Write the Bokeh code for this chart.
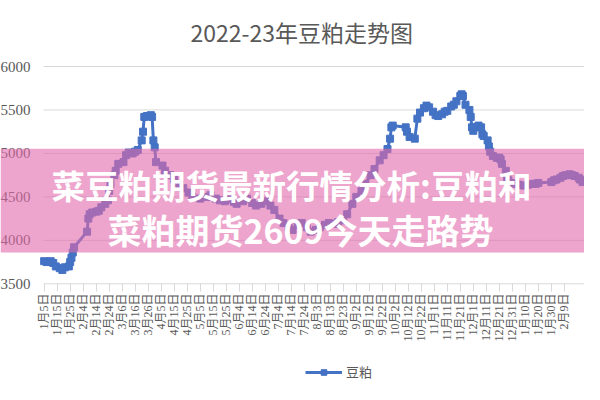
import math
import pandas as pd
from bokeh.plotting import figure
from bokeh.layouts import column
from bokeh.models import (ColumnDataSource, FixedTicker, Range1d, BoxAnnotation,
                          Label, LabelSet, Legend, LegendItem)
from bokeh.embed import file_html
from bokeh.resources import INLINE

title_text = "2022-23年豆粕走势图"
series_name = "豆粕"
overlay_line1 = "菜豆粕期货最新行情分析:豆粕和"
overlay_line2 = "菜粕期货2609今天走路势"

dates = [
    "2022-01-05", "2022-01-07", "2022-01-10", "2022-01-12", "2022-01-14", "2022-01-17",
    "2022-01-19", "2022-01-21", "2022-01-24", "2022-01-25", "2022-01-26", "2022-01-27",
    "2022-01-28", "2022-02-07", "2022-02-08", "2022-02-09", "2022-02-11", "2022-02-14",
    "2022-02-16", "2022-02-18", "2022-02-21", "2022-02-23", "2022-02-24", "2022-02-25",
    "2022-02-28", "2022-03-01", "2022-03-03", "2022-03-07", "2022-03-09", "2022-03-11",
    "2022-03-14", "2022-03-16", "2022-03-18", "2022-03-21", "2022-03-22", "2022-03-23",
    "2022-03-25", "2022-03-28", "2022-03-29", "2022-03-30", "2022-03-31", "2022-04-01",
    "2022-04-06", "2022-04-08", "2022-04-12", "2022-04-15", "2022-04-19", "2022-04-22",
    "2022-04-26", "2022-04-29", "2022-05-05", "2022-05-10", "2022-05-13", "2022-05-17",
    "2022-05-20", "2022-05-24", "2022-05-27", "2022-05-31", "2022-06-02", "2022-06-07",
    "2022-06-10", "2022-06-14", "2022-06-17", "2022-06-21", "2022-06-24", "2022-06-28",
    "2022-07-01", "2022-07-05", "2022-07-08", "2022-07-12", "2022-07-15", "2022-07-19",
    "2022-07-22", "2022-07-26", "2022-07-29", "2022-08-02", "2022-08-05", "2022-08-09",
    "2022-08-12", "2022-08-16", "2022-08-19", "2022-08-23", "2022-08-26", "2022-08-30",
    "2022-09-02", "2022-09-06", "2022-09-09", "2022-09-13", "2022-09-16", "2022-09-20",
    "2022-09-23", "2022-09-26", "2022-09-28", "2022-09-29", "2022-09-30", "2022-10-10",
    "2022-10-11", "2022-10-13", "2022-10-17", "2022-10-19", "2022-10-21", "2022-10-24",
    "2022-10-26", "2022-10-28", "2022-10-31", "2022-11-02", "2022-11-04", "2022-11-07",
    "2022-11-09", "2022-11-11", "2022-11-14", "2022-11-16", "2022-11-18", "2022-11-21",
    "2022-11-22", "2022-11-23", "2022-11-25", "2022-11-28", "2022-11-29", "2022-11-30",
    "2022-12-01", "2022-12-02", "2022-12-05", "2022-12-07", "2022-12-08", "2022-12-09",
    "2022-12-12", "2022-12-13", "2022-12-14", "2022-12-16", "2022-12-19", "2022-12-21",
    "2022-12-22", "2022-12-23", "2022-12-26", "2022-12-27", "2022-12-28", "2022-12-30",
    "2023-01-03", "2023-01-05", "2023-01-09", "2023-01-12", "2023-01-16", "2023-01-18",
    "2023-01-20", "2023-01-30", "2023-02-01", "2023-02-03", "2023-02-06", "2023-02-08",
    "2023-02-10", "2023-02-13", "2023-02-15", "2023-02-17", "2023-02-20", "2023-02-21",
    "2023-02-23",
]
values = [
    3760, 3750, 3760, 3740, 3700, 3680,
    3660, 3690, 3700, 3750, 3800, 3860,
    3920, 4100, 4250, 4300, 4320, 4330,
    4340, 4380, 4420, 4460, 4570, 4650,
    4750, 4800, 4880, 4900, 4980, 5010,
    5000, 5020, 5040, 5150, 5250, 5420,
    5430, 5440, 5420, 5150, 5070, 4900,
    4860, 4800, 4750, 4700, 4650, 4600,
    4550, 4500, 4480, 4500, 4520, 4480,
    4460, 4450, 4470, 4440, 4420, 4450,
    4480, 4430, 4400, 4420, 4450, 4400,
    4350, 4250, 4200, 4150, 4120, 4180,
    4200, 4150, 4100, 4120, 4150, 4180,
    4200, 4190, 4210, 4230, 4300, 4420,
    4500, 4570, 4650, 4750, 4820, 4920,
    4980, 5050, 5170, 5300, 5320, 5300,
    5250, 5190, 5170, 5400, 5470, 5520,
    5550, 5530, 5480, 5440, 5430, 5450,
    5480, 5490, 5540, 5560, 5600, 5660,
    5680, 5660, 5560, 5500, 5420, 5300,
    5260, 5300, 5320, 5300, 5220, 5200,
    5150, 5080, 5020, 4970, 4950, 4950,
    4930, 4880, 4800, 4720, 4690, 4660,
    4650, 4640, 4630, 4640, 4650, 4650,
    4660, 4670, 4690, 4700, 4720, 4740,
    4750, 4760, 4750, 4740, 4720, 4700,
    4670,
]

tick_labels = [
    "1月5日", "1月15日", "1月25日", "2月4日", "2月14日", "2月24日", "3月6日", "3月16日",
    "3月26日", "4月5日", "4月15日", "4月25日", "5月5日", "5月15日", "5月25日", "6月4日",
    "6月14日", "6月24日", "7月4日", "7月14日", "7月24日", "8月3日", "8月13日", "8月23日",
    "9月2日", "9月12日", "9月22日", "10月2日", "10月12日", "10月22日", "11月1日", "11月11日",
    "11月21日", "12月1日", "12月11日", "12月21日", "12月31日", "1月10日", "1月20日",
    "1月30日", "2月9日",
]
y_ticks = [3500, 4000, 4500, 5000, 5500, 6000]
y_tick_labels = ["3500", "4000", "4500", "5000", "5500", "6000"]

origin = pd.Timestamp("2022-01-05")
xs = [(pd.Timestamp(d) - origin).days for d in dates]
tick_x = [i * 10 for i in range(len(tick_labels))]

# ---- layout constants (pixels) ----
W = 584
H_MAIN = 360
H_LEG = 24
PLOT_LEFT_PX = 43             # data area starts here inside the canvas
DAY_MIN, DAY_MAX = -0.5, 415.5
px_per_day = (W - PLOT_LEFT_PX) / (DAY_MAX - DAY_MIN)
x_start = DAY_MIN - PLOT_LEFT_PX / px_per_day

Y_LO, Y_HI = 3500, 6000
Y_LO_PX, Y_HI_PX = 283.3, 66.0   # pixel rows of the 3500 and 6000 gridlines
FRAME_TOP, FRAME_BOTTOM = 58, 291
px_per_unit = (Y_LO_PX - Y_HI_PX) / (Y_HI - Y_LO)
y_start = Y_LO - (FRAME_BOTTOM - Y_LO_PX) / px_per_unit
y_end = Y_HI + (Y_HI_PX - FRAME_TOP) / px_per_unit

src = ColumnDataSource(dict(x=xs, y=values))
grid_src = ColumnDataSource(dict(y=y_ticks, lbl=y_tick_labels,
                                 x0=[DAY_MIN] * len(y_ticks),
                                 x1=[DAY_MAX] * len(y_ticks)))

p = figure(width=W, height=H_MAIN, output_backend="svg", toolbar_location=None,
           x_range=Range1d(x_start, DAY_MAX), y_range=Range1d(y_start, y_end),
           min_border_left=0, min_border_right=0, min_border_top=FRAME_TOP,
           min_border_bottom=H_MAIN - FRAME_BOTTOM)
p.background_fill_color = "white"
p.border_fill_color = "white"
p.outline_line_color = None

p.title.text = title_text
p.title.align = "left"
p.title.offset = 190
p.title.text_font = "Noto Sans CJK SC"
p.title.text_font_size = "23px"
p.title.text_font_style = "normal"
p.title.text_color = "#595959"
p.title.standoff = 20

p.yaxis.visible = False
p.xgrid.grid_line_color = None
p.ygrid.grid_line_color = None

# gridlines limited to the data area, y labels to the left of it
p.segment(x0="x0", x1="x1", y0="y", y1="y", source=grid_src,
          line_color="#d9d9d9", line_width=1, level="underlay")
p.add_layout(LabelSet(x="x0", y="y", text="lbl", source=grid_src, x_offset=-13,
                      text_align="right", text_baseline="middle",
                      text_font="Liberation Serif", text_font_size="15px",
                      text_color="#595959"))

# x axis
p.xaxis.ticker = FixedTicker(ticks=tick_x)
p.xaxis.major_label_overrides = {t: l for t, l in zip(tick_x, tick_labels)}
p.xaxis.major_label_orientation = math.pi / 2
p.xaxis.major_label_text_font = "'Liberation Serif', 'Noto Sans CJK SC', serif"
p.xaxis.major_label_text_font_size = "12px"
p.xaxis.major_label_text_color = "#595959"
p.xaxis.axis_line_color = None
p.xaxis.major_tick_line_color = "#d9d9d9"
p.xaxis.major_tick_in = 8
p.xaxis.major_tick_out = 0
p.xaxis.minor_tick_line_color = None
p.xaxis.major_label_standoff = 2

p.line("x", "y", source=src, line_color="#4472C4", line_width=3)
p.scatter("x", "y", source=src, marker="square", size=7,
          fill_color="#4472C4", line_color="#4472C4")

band = BoxAnnotation(top=5054, bottom=3860, fill_color=(227, 105, 172),
                     fill_alpha=0.6, line_color=None)
p.add_layout(band)

for txt, yv, fs, cx in [(overlay_line1, 4647, "33.5px", 291),
                        (overlay_line2, 4130, "34px", 300)]:
    p.add_layout(Label(x=cx, y=yv, x_units="screen", y_units="data", text=txt,
                       text_align="center", text_baseline="middle",
                       text_font="Noto Sans CJK SC", text_font_size=fs,
                       text_font_style="bold", text_color="white"))

# legend strip under the chart (its ranges hold none of the points)
leg = figure(width=W, height=H_LEG, output_backend="svg", toolbar_location=None,
             x_range=Range1d(0, 1), y_range=Range1d(0, 1),
             min_border=0, min_border_left=0, min_border_right=0,
             min_border_top=0, min_border_bottom=0)
leg.axis.visible = False
leg.grid.grid_line_color = None
leg.outline_line_color = None
lr = leg.line("x", "y", source=src, line_color="#4472C4", line_width=3)
ls = leg.scatter("x", "y", source=src, marker="square", size=7,
                 fill_color="#4472C4", line_color="#4472C4")
legend = Legend(items=[LegendItem(label=series_name, renderers=[lr, ls])],
                orientation="horizontal", location=(305, 3),
                glyph_width=37, glyph_height=14, label_standoff=4,
                label_text_font="Noto Sans CJK SC", label_text_font_size="13px",
                label_text_color="#595959", border_line_color=None,
                background_fill_alpha=0, padding=0, margin=0)
leg.add_layout(legend)

layout = column(p, leg, spacing=0)
open("out.html", "w").write(file_html(layout, INLINE))
